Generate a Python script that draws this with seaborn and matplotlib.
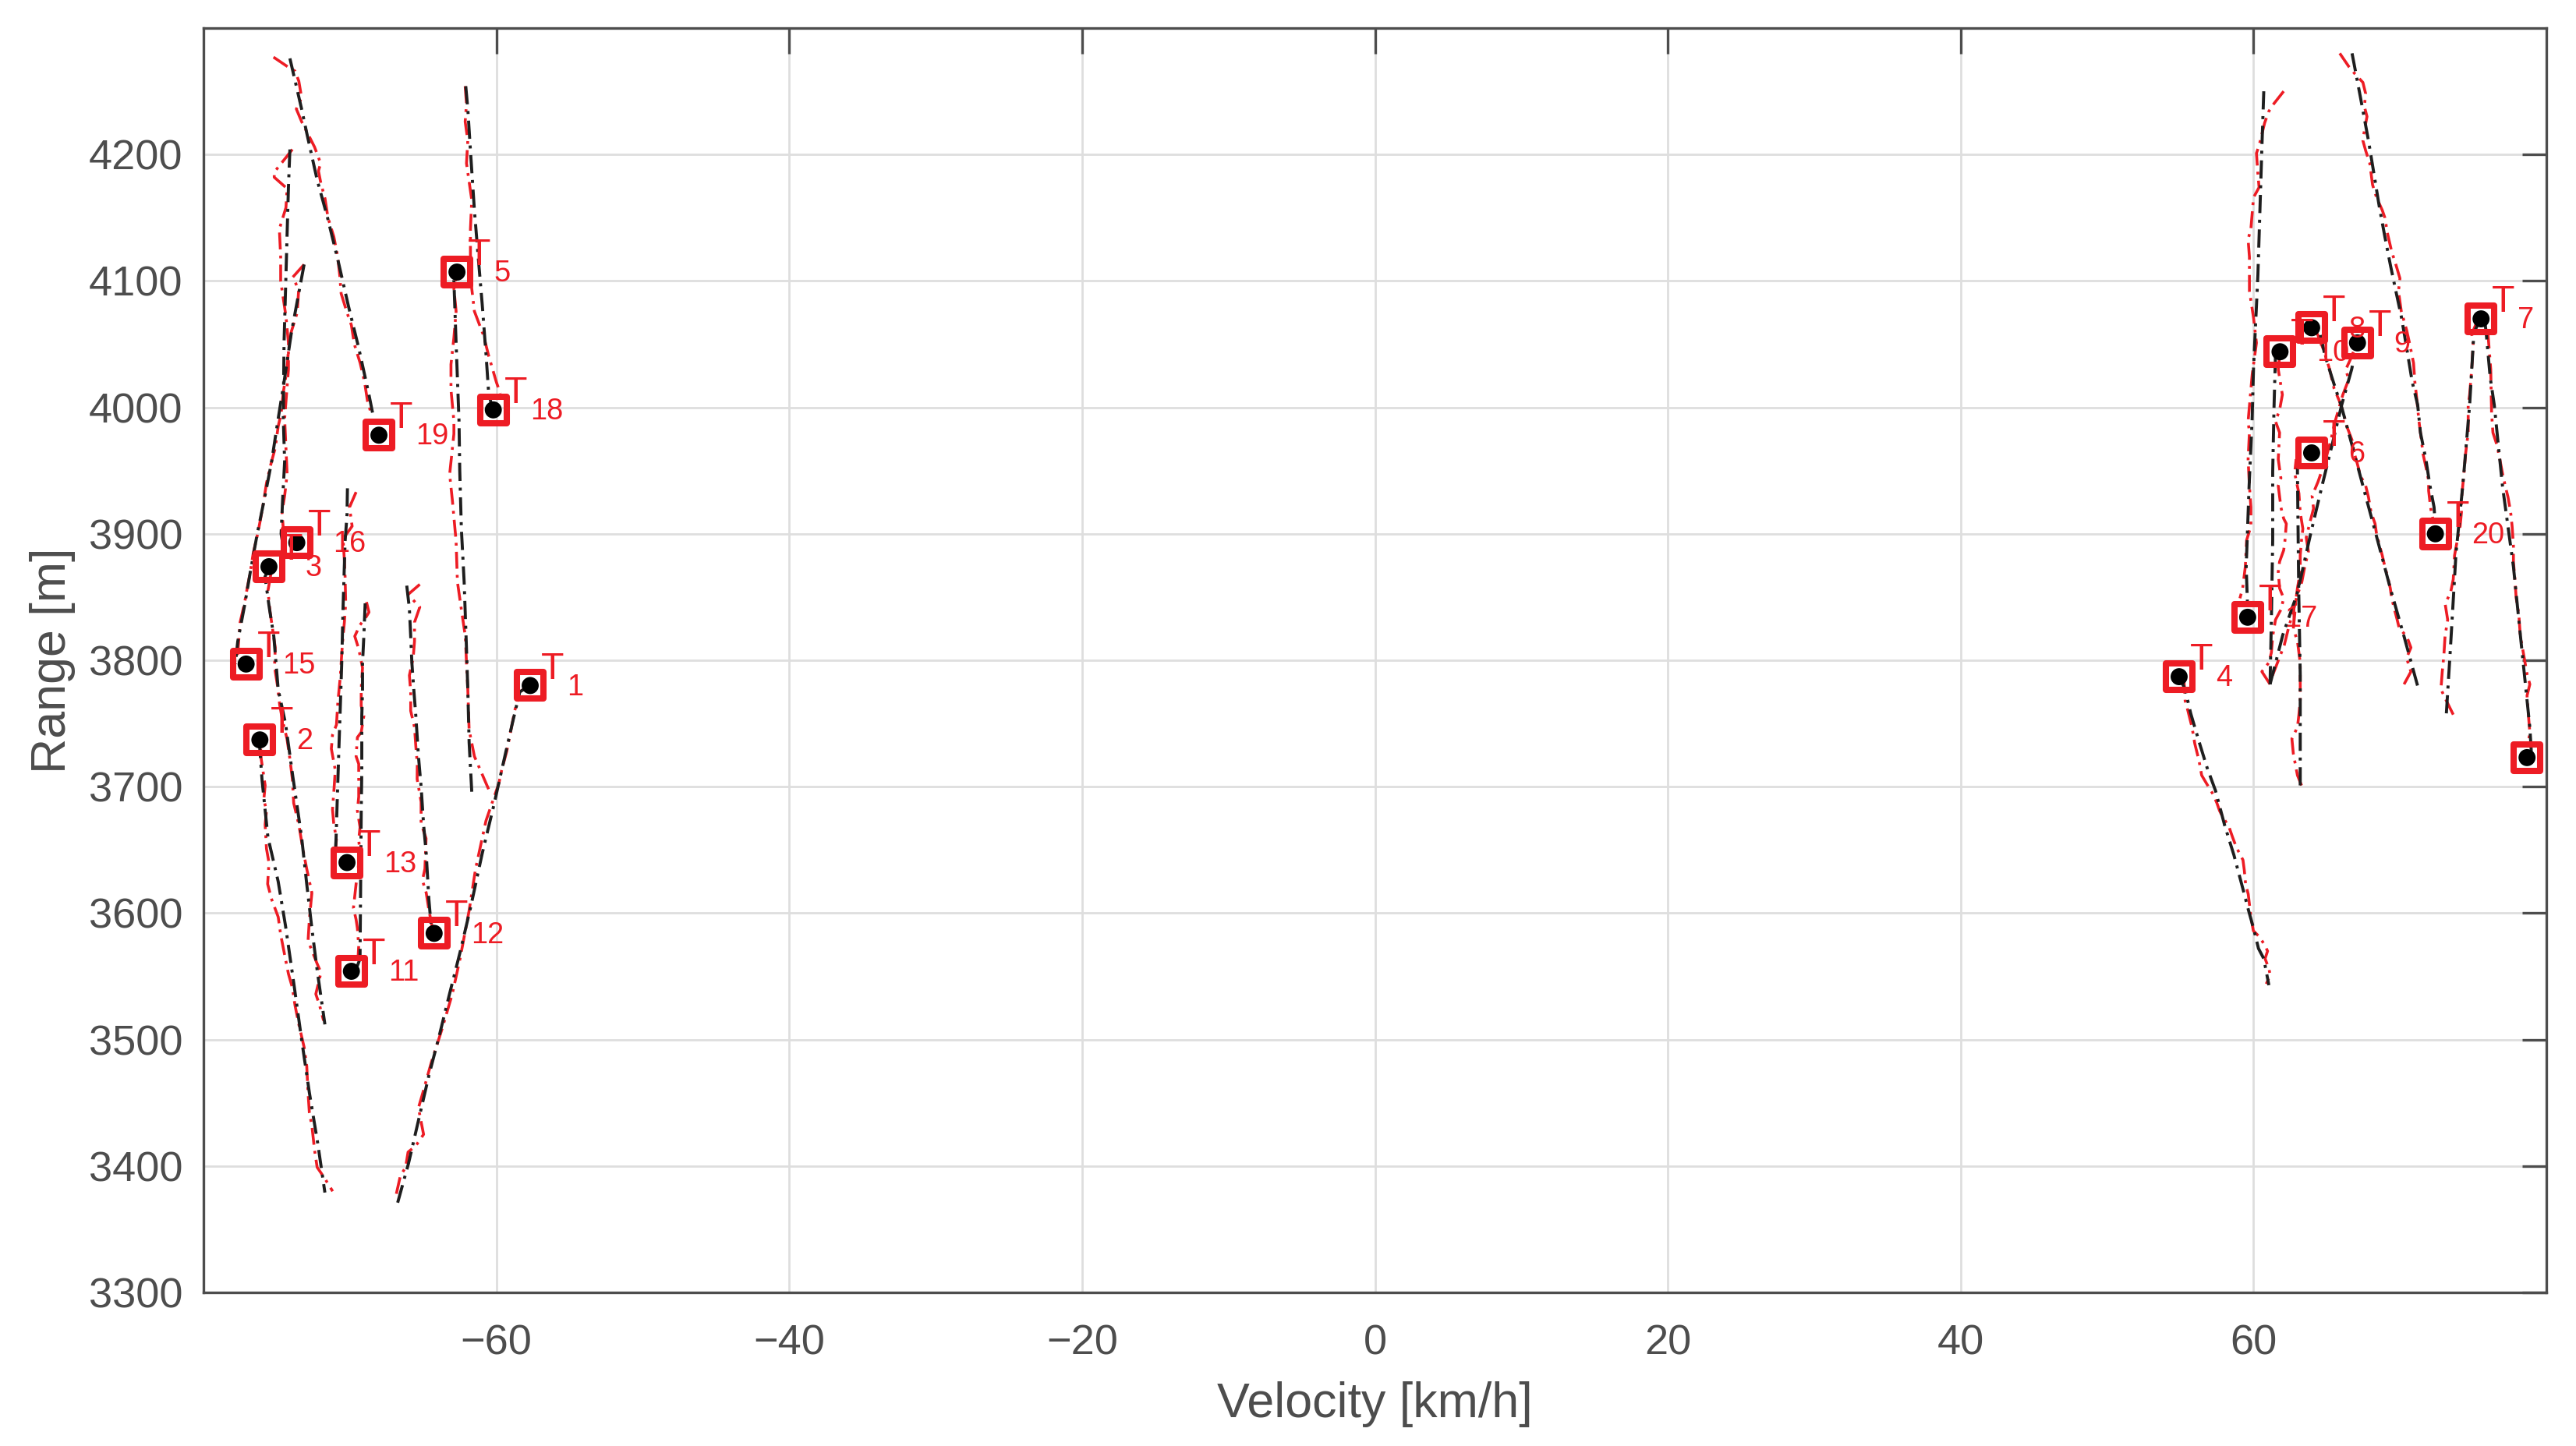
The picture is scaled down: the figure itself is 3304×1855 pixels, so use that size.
import numpy as np
import pandas as pd
import matplotlib
matplotlib.use("Agg")
import matplotlib.pyplot as plt
import seaborn as sns

# ---------------- data ----------------
track_ids = list(range(1, 21))
marker_x = [-57.69, -76.15, -75.53, 54.92, -62.69, 63.97, 75.54, 63.97, 67.10, 61.81,
            -69.90, -64.25, -70.20, 78.68, -77.09, -73.63, 59.60, -60.21, -68.02, 72.42]
marker_y = [3780, 3737, 3874, 3787, 4107, 3964, 4070, 4063, 4051, 4044,
            3554, 3584, 3640, 3723, 3797, 3893, 3834, 3998, 3978, 3900]

# estimated tracks (black) and measured tracks (red): (velocity, range)
est_T1 = [(-66.74, 3371), (-66.0, 3402), (-65.3, 3437), (-64.6, 3472), (-63.9, 3503), (-63.2, 3536),
          (-62.48, 3569), (-61.77, 3604), (-60.97, 3647), (-60.18, 3685), (-59.5, 3720), (-58.93, 3749),
          (-58.4, 3775), (-57.7, 3780)]
meas_T1 = [(-66.83, 3378), (-66.56, 3392), (-66.2, 3399), (-66.03, 3411), (-65.5, 3416), (-64.97, 3425),
           (-65.14, 3435), (-65.32, 3446), (-64.97, 3460), (-64.44, 3482), (-63.72, 3508), (-63.01, 3536),
           (-62.48, 3564), (-61.86, 3602), (-61.42, 3635), (-60.71, 3673), (-59.82, 3703), (-59.64, 3713),
           (-59.29, 3728), (-59.0, 3745), (-58.75, 3760), (-58.4, 3775), (-57.9, 3779)]
est_T2 = [(-76.2, 3737), (-76.0, 3705), (-75.6, 3660), (-74.9, 3625), (-74.4, 3590), (-73.84, 3545),
          (-73.3, 3500), (-72.77, 3458), (-72.2, 3418), (-71.71, 3379)]
meas_T2 = [(-76.1, 3730), (-76.06, 3722), (-75.79, 3701), (-75.88, 3690), (-75.7, 3681), (-75.79, 3670),
           (-75.7, 3651), (-75.53, 3640), (-75.62, 3623), (-75.35, 3611), (-74.9, 3597), (-74.73, 3583),
           (-74.46, 3567), (-74.2, 3552), (-73.93, 3541), (-73.75, 3527), (-73.49, 3512), (-73.13, 3494),
           (-72.95, 3479), (-72.86, 3458), (-72.77, 3442), (-72.6, 3432), (-72.42, 3413), (-72.24, 3399),
           (-71.71, 3390), (-71.18, 3380)]
est_T3 = [(-75.5, 3874), (-75.8, 3866), (-75.5, 3841), (-75.2, 3819), (-74.9, 3777), (-74.4, 3750),
          (-73.9, 3708), (-73.3, 3660), (-72.95, 3623), (-72.6, 3588), (-72.24, 3555), (-71.71, 3512)]
meas_T3 = [(-75.4, 3868), (-75.6, 3855), (-75.45, 3838), (-75.3, 3826), (-75.1, 3810), (-75.15, 3795),
           (-74.95, 3780), (-74.8, 3765), (-74.6, 3752), (-74.3, 3738), (-74.1, 3722), (-73.93, 3706),
           (-73.84, 3687), (-73.49, 3670), (-73.22, 3651), (-72.95, 3635), (-72.6, 3616), (-72.77, 3595),
           (-72.86, 3578), (-72.24, 3560), (-71.98, 3553), (-72.33, 3536), (-72.07, 3527), (-71.8, 3515)]
est_T4 = [(54.92, 3787), (55.33, 3777), (55.71, 3758), (56.27, 3736), (56.83, 3715), (57.4, 3697),
          (58.04, 3669), (58.66, 3646), (59.28, 3619), (59.64, 3603), (60.0, 3588), (60.34, 3572),
          (60.7, 3564), (61.05, 3543)]
meas_T4 = [(55.24, 3787), (55.33, 3768), (55.52, 3760), (55.8, 3747), (55.99, 3734), (56.27, 3721),
           (56.46, 3709), (56.92, 3700), (57.24, 3694), (57.5, 3687), (57.68, 3681), (57.95, 3675),
           (58.3, 3669), (58.57, 3660), (58.83, 3652), (59.28, 3642), (59.37, 3634), (59.46, 3623),
           (59.64, 3615), (59.72, 3607), (59.82, 3597), (59.99, 3586), (60.34, 3582), (60.7, 3576),
           (60.96, 3570), (60.79, 3564), (61.05, 3556), (61.14, 3551), (60.87, 3544)]
est_T5 = [(-61.68, 3696), (-61.86, 3735), (-61.95, 3777), (-62.04, 3809), (-62.2, 3862), (-62.39, 3904),
          (-62.5, 3950), (-62.55, 3989), (-62.75, 4051), (-62.9, 4100), (-62.69, 4107)]
meas_T5 = [(-60.53, 3698), (-61.5, 3724), (-61.86, 3745), (-61.95, 3777), (-62.04, 3798), (-62.12, 3819),
           (-62.4, 3841), (-62.66, 3862), (-62.75, 3894), (-63.0, 3926), (-63.19, 3947), (-62.9, 3979),
           (-62.9, 3989), (-63.1, 4014), (-63.1, 4034), (-62.9, 4055), (-62.75, 4076), (-62.9, 4094),
           (-62.69, 4107)]
est_T6 = [(63.19, 3701), (63.19, 3789), (63.09, 3853), (63.0, 3949), (63.0, 3958)]
meas_T6 = [(63.28, 3701), (63.0, 3709), (62.72, 3726), (62.62, 3738), (63.0, 3747), (63.1, 3757),
           (63.19, 3768), (63.19, 3789), (63.19, 3798), (63.0, 3815), (62.72, 3825), (62.81, 3836),
           (62.91, 3849), (63.0, 3857), (63.19, 3870), (63.19, 3883), (63.28, 3895), (63.37, 3904),
           (63.19, 3917), (63.1, 3932), (62.81, 3948), (62.91, 3959)]
est_T7 = [(73.17, 3758), (73.45, 3810), (73.83, 3885), (74.29, 3938), (74.76, 4002), (75.05, 4059),
          (75.5, 4070)]
meas_T7 = [(73.64, 3757), (73.17, 3768), (72.8, 3777), (72.89, 3791), (73.0, 3804), (73.08, 3819),
           (73.26, 3832), (73.08, 3845), (73.45, 3853), (73.64, 3864), (73.73, 3883), (73.92, 3895),
           (74.11, 3906), (74.2, 3917), (74.2, 3927), (74.38, 3949), (74.48, 3963), (74.66, 3980),
           (74.66, 4002), (74.76, 4010), (74.9, 4030), (75.0, 4050), (74.9, 4058), (75.2, 4066)]
est_T8 = [(71.2, 3780), (70.3, 3818), (69.34, 3857), (68.4, 3898), (67.47, 3938), (66.73, 3970),
          (66.0, 4001), (65.62, 4014), (64.88, 4041), (64.5, 4061), (63.97, 4063)]
meas_T8 = [(70.28, 3781), (70.75, 3791), (70.6, 3796), (70.46, 3802), (70.75, 3810), (70.46, 3819),
           (69.96, 3825), (69.81, 3832), (69.63, 3840), (69.44, 3849), (69.34, 3857), (69.16, 3866),
           (68.97, 3874), (68.79, 3883), (68.6, 3891), (68.4, 3900), (68.3, 3908), (68.03, 3917),
           (67.85, 3929), (67.66, 3938), (67.3, 3946), (67.1, 3955), (66.9, 3963), (66.73, 3974),
           (66.37, 3985), (66.1, 3997), (65.9, 4004), (65.5, 4015), (65.2, 4030), (64.8, 4045), (64.3, 4060)]
est_T9 = [(61.13, 3781), (62.0, 3820), (62.99, 3853), (63.9, 3900), (64.68, 3938), (65.4, 3972),
          (66.0, 4001), (66.7, 4030), (67.1, 4051)]
meas_T9 = [(61.3, 3788), (61.7, 3800), (62.1, 3812), (62.4, 3826), (62.7, 3838), (62.95, 3850),
           (63.3, 3862), (63.5, 3874), (63.75, 3886), (63.6, 3897), (63.85, 3909), (64.1, 3920),
           (64.0, 3930), (64.4, 3941), (64.7, 3951), (65.0, 3962), (65.3, 3975), (65.55, 3988),
           (65.8, 3998), (66.1, 4010), (66.5, 4022), (66.3, 4030), (66.7, 4040), (67.0, 4050)]
est_T10 = [(61.13, 3781), (61.22, 3832), (61.31, 3895), (61.31, 3949), (61.4, 4000), (61.5, 4041),
           (61.81, 4044)]
meas_T10 = [(61.13, 3781), (60.57, 3791), (61.04, 3798), (61.22, 3806), (61.31, 3819), (61.5, 3832),
            (61.87, 3840), (62.06, 3849), (61.78, 3857), (61.69, 3870), (61.78, 3878), (62.06, 3887),
            (62.15, 3895), (62.24, 3908), (62.06, 3912), (61.87, 3921), (61.69, 3938), (61.87, 3944),
            (61.69, 3959), (61.78, 3980), (61.5, 3989), (61.78, 3998), (61.97, 4010), (61.69, 4030),
            (61.81, 4044)]
est_T11 = [(-68.96, 3845), (-69.05, 3819), (-69.14, 3798), (-69.14, 3777), (-69.19, 3756), (-69.19, 3713),
           (-69.23, 3680), (-69.26, 3635), (-69.31, 3564), (-69.5, 3558)]
meas_T11 = [(-68.87, 3846), (-68.7, 3838), (-68.96, 3833), (-69.31, 3828), (-69.67, 3819), (-69.4, 3809),
            (-69.14, 3794), (-69.23, 3777), (-69.23, 3764), (-69.05, 3756), (-69.23, 3743), (-69.49, 3739),
            (-69.58, 3724), (-69.4, 3718), (-69.4, 3692), (-69.49, 3681), (-69.31, 3668), (-69.4, 3658),
            (-69.31, 3647), (-69.58, 3623), (-69.76, 3604), (-69.58, 3595), (-69.49, 3588), (-69.4, 3574),
            (-69.45, 3564)]
est_T12 = [(-66.12, 3859), (-65.94, 3841), (-65.85, 3819), (-65.77, 3798), (-65.64, 3777), (-65.5, 3756),
           (-65.32, 3724), (-65.14, 3700), (-64.97, 3670), (-64.79, 3647), (-64.61, 3611), (-64.44, 3588)]
meas_T12 = [(-65.23, 3860), (-66.03, 3852), (-65.23, 3842), (-65.59, 3830), (-65.59, 3815), (-65.68, 3802),
            (-65.94, 3788), (-65.85, 3775), (-65.85, 3760), (-65.59, 3747), (-65.5, 3732), (-65.4, 3718),
            (-65.41, 3706), (-65.14, 3688), (-65.14, 3671), (-64.8, 3659), (-64.88, 3635), (-65.05, 3626),
            (-64.79, 3616), (-64.6, 3602), (-64.4, 3590)]
est_T13 = [(-70.17, 3936), (-70.2, 3915), (-70.33, 3894), (-70.47, 3841), (-70.56, 3798), (-70.65, 3766),
           (-70.74, 3735), (-70.86, 3692), (-70.95, 3658), (-71.0, 3647)]
meas_T13 = [(-69.58, 3933), (-70.03, 3921), (-69.85, 3906), (-70.47, 3896), (-70.38, 3879), (-70.33, 3866),
            (-70.29, 3845), (-70.38, 3830), (-70.47, 3819), (-70.56, 3805), (-70.65, 3788), (-70.74, 3777),
            (-70.83, 3766), (-70.92, 3749), (-71.19, 3741), (-71.27, 3730), (-71.0, 3713), (-71.1, 3696),
            (-71.19, 3682), (-71.1, 3670), (-70.92, 3659), (-71.0, 3647)]
est_T14 = [(75.8, 4068), (75.89, 4059), (76.16, 4024), (76.44, 4002), (77.0, 3938), (77.75, 3874),
           (78.31, 3810), (78.87, 3747), (78.97, 3728)]
meas_T14 = [(76.0, 4060), (76.2, 4030), (76.26, 3995), (76.35, 3980), (76.63, 3970), (76.82, 3959),
            (77.0, 3948), (77.19, 3938), (77.38, 3929), (77.56, 3917), (77.66, 3906), (77.75, 3891),
            (77.75, 3878), (77.85, 3864), (77.94, 3849), (78.12, 3836), (78.22, 3819), (78.41, 3807),
            (78.68, 3789), (78.87, 3781), (78.68, 3772), (78.77, 3757), (78.87, 3743), (78.77, 3735)]
est_T15 = [(-73.13, 4113), (-73.5, 4090), (-74.0, 4059), (-74.5, 4020), (-74.9, 3991), (-75.35, 3957),
           (-75.8, 3930), (-76.33, 3900), (-76.8, 3870), (-77.2, 3843), (-77.66, 3815), (-77.83, 3797)]
meas_T15 = [(-73.13, 4113), (-73.9, 4103), (-73.5, 4093), (-73.6, 4075), (-74.0, 4060), (-74.2, 4045),
            (-74.3, 4030), (-74.55, 4012), (-74.7, 3995), (-74.9, 3985), (-75.1, 3968), (-75.4, 3955),
            (-75.7, 3940), (-75.9, 3925), (-76.1, 3912), (-76.3, 3900), (-76.6, 3885), (-76.8, 3870),
            (-77.0, 3858), (-77.2, 3845), (-77.5, 3830), (-77.6, 3815), (-77.7, 3800)]
est_T16 = [(-74.1, 4204), (-74.2, 4174), (-74.3, 4133), (-74.4, 4092), (-74.5, 4051), (-74.55, 3991),
           (-74.46, 3957), (-74.6, 3926), (-74.7, 3900), (-74.6, 3893)]
meas_T16 = [(-73.93, 4204), (-75.17, 4186), (-75.17, 4182), (-74.29, 4173), (-74.37, 4158), (-74.82, 4141),
            (-74.73, 4119), (-74.73, 4100), (-74.37, 4072), (-74.2, 4051), (-74.2, 4030), (-74.46, 3991),
            (-74.37, 3968), (-74.29, 3947), (-74.46, 3930), (-74.64, 3917), (-74.55, 3904)]
est_T17 = [(60.7, 4250), (60.57, 4205), (60.3, 4105), (60.0, 4031), (59.9, 3989), (59.7, 3938),
           (59.5, 3874), (59.6, 3840)]
meas_T17 = [(62.06, 4250), (61.31, 4239), (61.04, 4234), (60.76, 4225), (60.38, 4207), (60.2, 4201),
            (60.29, 4186), (60.38, 4174), (60.0, 4166), (59.82, 4141), (59.63, 4133), (59.72, 4119),
            (59.72, 4092), (60.0, 4071), (60.2, 4051), (59.91, 4026), (59.63, 3989), (59.72, 3980),
            (59.63, 3959), (59.72, 3938), (59.82, 3921), (59.82, 3906), (59.53, 3895), (59.44, 3874),
            (59.26, 3857), (59.07, 3849)]
est_T18 = [(-62.09, 4254), (-61.95, 4236), (-61.77, 4203), (-61.5, 4156), (-61.24, 4119), (-60.97, 4082),
           (-60.7, 4041), (-60.53, 4012), (-60.3, 4000)]
meas_T18 = [(-62.13, 4254), (-62.04, 4240), (-62.13, 4226), (-61.95, 4211), (-62.04, 4193), (-61.68, 4164),
            (-61.77, 4141), (-61.77, 4121), (-61.68, 4094), (-61.5, 4076), (-60.88, 4057), (-60.53, 4041),
            (-60.0, 4020), (-59.73, 4011)]
est_T19 = [(-74.1, 4276), (-73.3, 4236), (-72.95, 4217), (-72.24, 4180), (-71.53, 4150), (-70.83, 4117),
           (-70.1, 4080), (-69.4, 4047), (-68.7, 4010), (-68.34, 3989), (-68.0, 3978)]
meas_T19 = [(-75.22, 4277), (-74.2, 4269), (-73.75, 4266), (-73.49, 4258), (-73.3, 4245), (-73.66, 4236),
            (-73.3, 4226), (-72.77, 4214), (-72.42, 4206), (-72.0, 4193), (-72.15, 4187), (-71.98, 4177),
            (-71.7, 4165), (-71.5, 4150), (-71.1, 4135), (-70.85, 4120), (-70.7, 4105), (-70.6, 4090),
            (-70.2, 4075), (-69.9, 4065), (-69.7, 4050), (-69.3, 4035), (-69.0, 4020), (-68.8, 4005),
            (-68.5, 3993)]
est_T20 = [(66.73, 4280), (67.29, 4246), (67.85, 4211), (68.22, 4185), (68.6, 4158), (68.97, 4135),
           (69.34, 4113), (69.72, 4092), (70.09, 4072), (70.46, 4047), (70.84, 4020), (71.21, 4002),
           (71.4, 3980), (71.77, 3959), (72.05, 3938), (72.33, 3921), (72.42, 3906)]
meas_T20 = [(65.89, 4280), (66.54, 4269), (66.91, 4264), (67.47, 4257), (67.66, 4248), (67.57, 4238),
            (67.75, 4230), (67.57, 4219), (67.47, 4211), (67.66, 4203), (67.94, 4193), (68.13, 4176),
            (68.4, 4166), (68.79, 4156), (68.97, 4150), (69.16, 4137), (69.44, 4123), (69.72, 4113),
            (70.0, 4102), (69.9, 4092), (70.09, 4076), (70.46, 4061), (70.65, 4051), (70.93, 4035),
            (71.02, 4020), (71.12, 4010), (71.3, 3989), (71.4, 3980), (71.58, 3963), (71.77, 3953),
            (71.96, 3942), (71.96, 3934), (72.05, 3925), (72.14, 3917), (72.33, 3908)]

x_ticks = [-60, -40, -20, 0, 20, 40, 60]
y_ticks = [3300, 3400, 3500, 3600, 3700, 3800, 3900, 4000, 4100, 4200]
x_label = "Velocity [km/h]"
y_label = "Range [m]"

# ---------------- style ----------------
RED = "#ED1C24"
BLACK = "#1E1E1E"
GREY = "#4D4D4D"

sns.set_style("white")
plt.rcParams["font.family"] = ["Liberation Sans", "DejaVu Sans"]

est = {i: globals()[f"est_T{i}"] for i in track_ids}
meas = {i: globals()[f"meas_T{i}"] for i in track_ids}


def to_frame(tracks):
    rows = []
    for tid, pts in tracks.items():
        for k, (v, r) in enumerate(pts):
            rows.append({"track": tid, "k": k, "velocity": v, "range": r})
    return pd.DataFrame(rows)


df_est = to_frame(est)
df_meas = to_frame(meas)
df_mark = pd.DataFrame({"track": track_ids, "velocity": marker_x, "range": marker_y})

fig = plt.figure(figsize=(16.52, 9.275), dpi=200)
ax = fig.add_axes([0.0790, 0.1062, 0.9095, 0.8744])

dashdot = (0, (6.0, 2.2, 1.0, 2.2))
sns.lineplot(data=df_meas, x="velocity", y="range", units="track", estimator=None, sort=False,
             color=RED, linewidth=1.3, linestyle=dashdot, ax=ax, zorder=2)
sns.lineplot(data=df_est, x="velocity", y="range", units="track", estimator=None, sort=False,
             color=BLACK, linewidth=1.4, linestyle=dashdot, ax=ax, zorder=2.5)

sns.scatterplot(data=df_mark, x="velocity", y="range", marker="s", s=150, color=RED,
                facecolor="none", edgecolor=RED, linewidth=2.9, ax=ax, zorder=4)
sns.scatterplot(data=df_mark, x="velocity", y="range", marker="o", s=62, color="black",
                edgecolor="none", linewidth=0, ax=ax, zorder=5)

xmin, xmax = -80, 80
ymin, ymax = 3300, 4300
for tid, mx, my in zip(track_ids, marker_x, marker_y):
    if mx + 2.5 > xmax:   # label anchor falls outside the axes -> not drawn
        continue
    ax.annotate("T", (mx, my), xytext=(5.0, 3.2), textcoords="offset points",
                color=RED, fontsize=17.4, ha="left", va="baseline", zorder=6)
    ax.annotate(str(tid), (mx, my), xytext=(16.9, -4.4), textcoords="offset points",
                color=RED, fontsize=13.7, ha="left", va="baseline", zorder=6)

ax.set_xlim(xmin, xmax)
ax.set_ylim(ymin, ymax)
ax.set_xticks(x_ticks)
ax.set_yticks(y_ticks)
ax.grid(True, color="#DEDEDE", linewidth=1.0)
ax.set_axisbelow(True)
for sp in ax.spines.values():
    sp.set_visible(True)
    sp.set_color(GREY)
    sp.set_linewidth(1.2)
ax.tick_params(axis="both", direction="in", top=True, right=True, colors=GREY,
               labelcolor=GREY, labelsize=19.5, width=1.2)
ax.tick_params(axis="x", length=12, pad=14.5)
ax.tick_params(axis="y", length=11, pad=9.5)
ax.set_xlabel(x_label, fontsize=22.6, color=GREY, labelpad=8.5)
ax.set_ylabel(y_label, fontsize=22.6, color=GREY, labelpad=6)
legend = ax.get_legend()
if legend is not None:
    legend.remove()

fig.savefig("out.png", dpi=200)
